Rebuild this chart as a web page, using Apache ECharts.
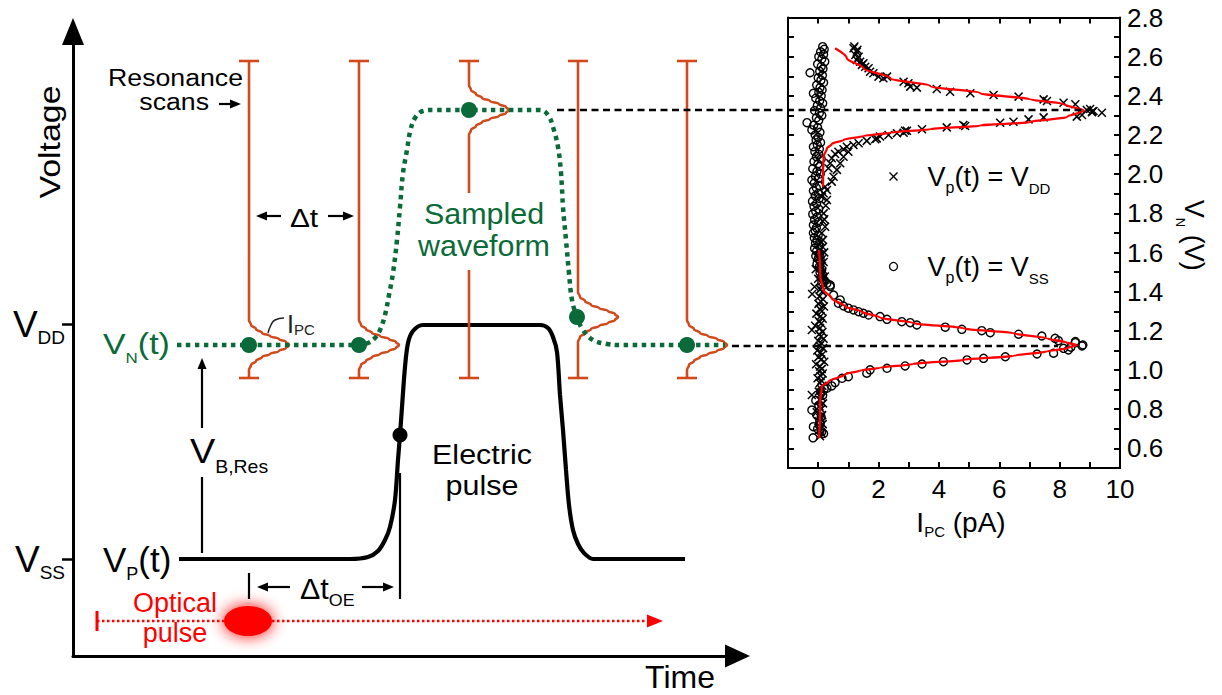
<!DOCTYPE html>
<html><head><meta charset="utf-8">
<script src="https://cdn.jsdelivr.net/npm/echarts@6/dist/echarts.min.js"></script>
<style>html,body{margin:0;padding:0;background:#fff}#c{width:1222px;height:695px}</style>
</head><body><div id="c"></div>
<script>
// ================= DATA =================
// ---- Right panel: I_PC (pA) vs V_N (V) ----
const xTickLabels = ['0','2','4','6','8','10'];
const yTickLabels = ['0.6','0.8','1.0','1.2','1.4','1.6','1.8','2.0','2.2','2.4','2.6','2.8'];
const seriesNameDD = 'V_p(t) = V_DD';
const seriesNameSS = 'V_p(t) = V_SS';

// crosses: V_p(t) = V_DD  (resonance branch)
const vddBranch = [
[1.20,2.652],[1.17,2.643],[1.30,2.635],[1.28,2.625],[1.23,2.609],[1.34,2.600],[1.28,2.583],[1.39,2.574],[1.50,2.566],
[1.45,2.558],[1.56,2.549],[1.67,2.541],[1.72,2.523],[1.83,2.515],[2.00,2.498],[2.16,2.490],[2.28,2.498],[2.83,2.472],
[2.99,2.464],[3.05,2.447],[3.27,2.442],[3.93,2.435],[4.37,2.421],[5.04,2.413],[5.81,2.404],[6.64,2.396],[7.47,2.382],
[7.58,2.374],[8.13,2.365],[8.52,2.357],[8.90,2.328],[9.01,2.333],[9.12,2.323],[9.07,2.316],[9.08,2.320],[9.40,2.314],
[8.74,2.302],[8.57,2.294],[7.47,2.290],[6.97,2.280],[6.47,2.268],[6.03,2.263],[4.81,2.251],[4.87,2.246],[4.26,2.239],
[3.44,2.229],[2.88,2.222],[2.94,2.222],[2.83,2.212],[2.61,2.209],[2.33,2.200],[2.05,2.192],[1.94,2.183],[1.89,2.178],
[1.61,2.170],[1.34,2.158],[1.17,2.149],[1.00,2.115],[0.95,2.140],[0.84,2.127],[0.84,2.089],[0.73,2.056],[0.67,2.115],
[0.62,2.022],[0.56,2.103],[0.51,1.987],[0.45,2.081],[0.45,1.962],[0.40,2.056],[0.34,2.030],[0.29,1.919],[0.12,1.885],
[0.23,1.936],[0.18,1.903],[0.29,1.868],[0.25,1.840],[0.18,1.800],[0.20,1.770],[0.15,1.760],[0.23,1.732],[0.12,1.700],[0.16,1.664]
];
// crosses: off-resonance column near I = 0
const vddBaseline = [
[0.10,1.655],[0.02,1.640],[0.15,1.628],[0.05,1.612],[0.20,1.601],[0.08,1.590],[-0.04,1.578],[0.12,1.566],[0.18,1.552],
[0.03,1.540],[0.10,1.528],[-0.08,1.515],[0.14,1.503],[0.06,1.490],[0.22,1.478],[0.00,1.466],[0.11,1.452],[0.17,1.440],
[-0.12,1.425],[0.07,1.412],[0.13,1.400],[-0.20,1.388],[0.04,1.376],[0.16,1.362],[0.09,1.350],[0.01,1.338],[0.19,1.325],
[0.05,1.312],[0.12,1.300],[-0.06,1.288],[0.08,1.275],[0.15,1.262],[0.02,1.250],[0.10,1.238],[-0.10,1.226],[0.06,1.214],
[-0.21,1.205],[0.14,1.195],[0.03,1.183],[0.09,1.171],[0.18,1.160],[0.00,1.148],[0.11,1.136],[0.05,1.124],[0.16,1.112],
[-0.03,1.100],[0.08,1.090],[0.13,1.078],[0.01,1.066],[0.10,1.054],[0.20,1.042],[-0.07,1.030],[0.06,1.018],[0.12,1.006],
[0.03,0.994],[0.15,0.982],[0.08,0.970],[-0.02,0.958],[0.11,0.946],[0.05,0.934],[0.14,0.920],[0.09,0.905],[-0.21,0.873],
[0.02,0.890],[0.12,0.860],[0.06,0.846],[0.16,0.830],[0.04,0.815],[0.10,0.800],[-0.05,0.785],[0.13,0.770],[0.07,0.755],
[0.01,0.740],[0.15,0.724],[0.08,0.708],[0.03,0.693],[0.11,0.678],[0.06,0.662]
];
// circles: V_p(t) = V_SS (resonance branch)
const vssBranch = [
[0.12,1.451],[0.29,1.443],[0.40,1.434],[0.40,1.426],[0.51,1.383],[0.73,1.358],[0.67,1.341],[0.84,1.327],[1.00,1.316],
[1.17,1.307],[1.34,1.298],[1.50,1.290],[1.67,1.281],[2.05,1.273],[2.28,1.259],[2.77,1.247],[3.05,1.242],[3.27,1.230],
[4.21,1.219],[4.76,1.208],[5.42,1.201],[5.70,1.191],[6.64,1.183],[7.41,1.174],[7.85,1.162],[7.96,1.150],[8.52,1.146],
[8.52,1.140],[8.77,1.128],[8.74,1.123],[8.37,1.117],[8.13,1.111],[8.29,1.103],[7.80,1.086],[7.25,1.082],[6.20,1.068],
[5.48,1.060],[4.93,1.052],[4.15,1.043],[3.44,1.031],[2.88,1.021],[2.28,1.009],[1.72,1.001],[1.61,0.984],[1.00,0.966],
[0.79,0.958],[0.56,0.936],[0.45,0.919],[0.29,0.907]
];
// circles: off-resonance columns near I = 0
const vssBaseline = [
[0.15,2.651],[0.20,2.638],[0.08,2.625],[0.18,2.612],[0.02,2.600],[0.12,2.588],[0.22,2.575],[-0.02,2.562],[0.10,2.550],
[0.16,2.538],[-0.27,2.518],[0.05,2.525],[0.14,2.505],[0.00,2.492],[0.09,2.480],[0.18,2.468],[-0.05,2.455],[0.06,2.442],
[0.13,2.430],[-0.16,2.413],[0.02,2.418],[0.10,2.400],[-0.08,2.388],[0.05,2.375],[0.15,2.362],[-0.03,2.350],[0.08,2.338],
[-0.12,2.325],[0.04,2.312],[0.12,2.300],[-0.06,2.288],[-0.37,2.263],[0.02,2.275],[-0.15,2.250],[-0.21,2.226],[-0.02,2.238],
[0.06,2.214],[-0.10,2.200],[0.00,2.188],[-0.07,2.175],[0.08,2.162],[-0.16,2.140],[-0.03,2.150],[0.04,2.128],[-0.11,2.115],
[0.02,2.102],[-0.06,2.090],[0.10,2.078],[-0.14,2.065],[-0.01,2.052],[0.05,2.040],[-0.18,2.028],[-0.04,2.015],[0.07,2.002],
[-0.09,1.990],[-0.21,1.970],[0.01,1.978],[-0.13,1.955],[0.04,1.942],[-0.06,1.930],[-0.16,1.915],[0.00,1.902],[-0.10,1.890],
[0.03,1.876],[-0.19,1.862],[-0.05,1.850],[-0.14,1.836],[0.02,1.822],[-0.08,1.810],[-0.18,1.796],[-0.03,1.782],[-0.12,1.768],
[0.01,1.755],[-0.16,1.740],[-0.06,1.726],[-0.16,1.700],[-0.10,1.712],[0.00,1.688],[-0.13,1.675],[-0.04,1.662],[-0.09,1.648],
[0.02,1.635],[-0.12,1.622],[-0.05,1.608],[0.05,1.595],[-0.08,1.582],[0.00,1.568],[0.08,1.555],[-0.04,1.542],[0.04,1.528],
[0.12,1.515],[0.06,1.500],[0.15,1.486],[0.10,1.472],[0.20,1.460],
[-0.21,0.796],[-0.16,0.711],[-0.17,0.654],[0.12,0.686],[0.18,0.676],[0.05,0.740],[-0.05,0.770],[0.10,0.760],[0.02,0.820],
[-0.08,0.845],[0.15,0.872],[0.08,0.890],[0.20,0.905],[-0.02,0.700],[0.06,0.725]
];
// red fitted curves
const vddFit = [[0.56,2.643],[0.95,2.592],[1.50,2.541],[2.39,2.490],[3.71,2.450],[5.37,2.413],[7.02,2.382],[8.13,2.358],
[8.80,2.325],[8.24,2.292],[7.02,2.266],[5.37,2.248],[3.71,2.230],[2.39,2.212],[1.50,2.195],[0.84,2.175],[0.45,2.154],
[0.29,2.132],[0.18,2.089],[0.16,2.030],[0.16,1.936]];
const vssFit = [[0.03,1.613],[0.07,1.477],[0.18,1.409],[0.45,1.367],[0.89,1.324],[1.45,1.298],[2.05,1.268],[3.16,1.240],
[4.81,1.213],[6.47,1.188],[7.58,1.162],[8.24,1.140],[8.57,1.128],[8.24,1.112],[7.58,1.095],[6.47,1.073],[4.81,1.052],
[3.16,1.031],[2.05,1.012],[1.40,0.998],[0.89,0.978],[0.34,0.941],[0.12,0.916],[0.07,0.847],[0.03,0.652]];

// ---- Left schematic (time t, voltage v in schematic units) ----
const levelV = [97, 332];                 // V_SS, V_DD
const levelLabels = ['{m|V}{s|SS}', '{m|V}{s|DD}'];
const pulseCurve = [[106,97],[277,97],[295,99],[305,105],[312,116],[317,129],[322,156],[325,196],[327,221],[329,249],
[332,289],[335,313],[340,325],[350,331],[467,331],[475,328],[480,319],[484,304],[487,261],[490,226],[493,186],[496,151],
[500,126],[505,112],[511,103],[520,97],[612,97]];
const pulseMarker = [[327,221]];
const sampledWave = [[104,311],[286,311],[295,313],[302,318],[307,326],[312,341],[316,361],[320,383],[324,416],[327,449],
[330,483],[334,506],[337,524],[342,538],[350,545],[360,546],[467,546],[475,541],[480,529],[485,509],[488,483],[490,449],
[493,416],[496,383],[499,356],[504,339],[510,326],[520,316],[534,312],[547,311],[652,311]];
const samplePoints = [[176,311],[286,311],[396,546],[504,339],[614,311]];
const scanTimes = [176, 286, 396, 505, 614];
const scanCenters = [311, 311, 546, 339, 311];
const scanTop = 595, scanBottom = 278, scanGap = [463, 386];
const bumpShape = [[0,25],[2,20],[7,16],[13,12],[21,9],[30,6],[37,3],[40,0],[37,-3],[30,-6],[21,-9],[13,-12],[7,-16],[2,-20],[0,-25]];
const ipcLeader = [[195,323],[198,331],[202,336],[211,338]];
const opticalPulse = [[175,35]];
const inkArrows = [[146,552,168,552],[208,440,183,440],[255,440,281,440],[129,228,129,298],[217,69,184,69],[289,69,321,69]];
const redArrows = [[24,35,590,35]];
const inkSegs = [[129,179,129,103],[176,83,176,57],[327,183,327,57]];
const redSegs = [[24,45,24,25]];
const dashSegs = [[484,546,1015,546],[659,310,985,310]];

// ================= STYLE / BUILD =================
const FONT = 'Liberation Sans, Arial, Helvetica, sans-serif';
const ORANGE = '#d24a1b', GREEN = '#0b6a3a', RED = '#ff0000';
const CROSS = 'path://M0,0L10,10M10,0L0,10';

const scanSegs = [];
scanTimes.forEach(t => { scanSegs.push([t-10,scanTop,t+10,scanTop]); scanSegs.push([t-10,scanBottom,t+10,scanBottom]); });
scanSegs.push([scanTimes[2], scanGap[1], scanTimes[2], scanBottom]);
function scanLine(i){
  const t = scanTimes[i], c = scanCenters[i];
  const pts = [[t, scanTop]];
  bumpShape.forEach(([dt,dv]) => pts.push([t+dt, c+dv]));
  pts.push([t, i === 2 ? scanGap[0] : scanBottom]);
  return pts;
}

function segSeries(name, data, st){
  return {type:'custom', name, xAxisIndex:2, yAxisIndex:2, data, z:4, silent:true,
    renderItem:(p, api) => {
      const a = api.coord([api.value(0), api.value(1)]), b = api.coord([api.value(2), api.value(3)]);
      return {type:'line', shape:{x1:a[0],y1:a[1],x2:b[0],y2:b[1]}, style:{stroke:st.color, lineWidth:st.width, lineDash:st.dash||null, fill:null}};
    }};
}
function arrowSeries(name, data, st){
  return {type:'custom', name, xAxisIndex:2, yAxisIndex:2, data, z:4, silent:true,
    renderItem:(p, api) => {
      const a = api.coord([api.value(0), api.value(1)]), b = api.coord([api.value(2), api.value(3)]);
      const dx=b[0]-a[0], dy=b[1]-a[1], L=Math.hypot(dx,dy), ux=dx/L, uy=dy/L;
      const hl=st.head[0], hw=st.head[1], bx=b[0]-ux*hl, by=b[1]-uy*hl;
      return {type:'group', children:[
        {type:'line', shape:{x1:a[0],y1:a[1],x2:bx+ux,y2:by+uy}, style:{stroke:st.color, lineWidth:st.width, lineDash:st.dash||null, fill:null}},
        {type:'polygon', shape:{points:[[b[0],b[1]],[bx-uy*hw/2,by+ux*hw/2],[bx+uy*hw/2,by-ux*hw/2]]}, style:{fill:st.color}}
      ]};
    }};
}

function txt(x, y, text, o){
  const al = o.align || 'center';
  return {type:'text', x, y, rotation:o.rot||0, scaleX:o.sx||1, silent:true, z:50,
    style:{text, x:0, y:0, font:(o.size||28)+'px '+FONT, fill:o.color||'#000',
      align:al, textAlign:al, verticalAlign:'middle', textVerticalAlign:'middle', rich:o.rich}};
}
function subTxt(x, y, parts, o){
  const c = o.color || '#000';
  const str = parts.map(([t,k]) => '{'+k+'|'+t+'}').join('');
  const rich = {m:{font:o.m+'px '+FONT, fill:c}, s:{font:o.s+'px '+FONT, fill:c, padding:[2*o.d,0,0,0]}};
  return txt(x, y, str, Object.assign({}, o, {rich, align:o.align||'left', size:o.m}));
}

const texts = [
  txt(50,142,'Voltage',{rot:Math.PI/2, sx:1.13, size:30}),
  txt(243,77.5,'Resonance',{align:'right', size:23, sx:1.16}),
  txt(209,102,'scans',{align:'right', size:23, sx:1.16}),
  txt(304,218,'Δt',{size:26, sx:1.15}),
  subTxt(103,344,[['V','m'],['N','s'],['(t)','m']],{m:30,s:15,d:14,color:GREEN,sx:1.13}),
  subTxt(287,324,[['I','m'],['PC','s']],{m:25,s:15,d:5,color:'#222'}),
  subTxt(190,450.5,[['V','m'],['B,Res','s']],{m:35,s:18,d:16,sx:1.08}),
  subTxt(103,559.5,[['V','m'],['P','s'],['(t)','m']],{m:35,s:18,d:14.5}),
  txt(482,454,'Electric',{size:28, sx:1.09}),
  txt(482,485,'pulse',{size:28, sx:1.09}),
  txt(484,214,'Sampled',{size:29, sx:1.05, color:GREEN}),
  txt(484,246,'waveform',{size:29, sx:1.05, color:GREEN}),
  subTxt(300,588.5,[['Δt','m'],['OE','s']],{m:29,s:17,d:11.5,sx:1.05}),
  txt(175,603,'Optical',{size:27, color:RED}),
  txt(175,633,'pulse',{size:27, color:RED}),
  txt(715,676.5,'Time',{size:32, align:'right'})
];

const plotAxisLine = {onZero:false, lineStyle:{color:'#000', width:2}};
const plotTick = {inside:true, length:6, lineStyle:{color:'#000', width:2}};
const legendRich = {
  g:{width:25},
  m:{fontSize:27, fontFamily:FONT, color:'#000'},
  p:{fontSize:16, fontFamily:FONT, color:'#000', padding:[22,0,0,0]},
  s:{fontSize:15, fontFamily:FONT, color:'#000', padding:[24,0,0,0]}
};

const option = {
  animation:false, backgroundColor:'#fff',
  grid:[
    {left:788, top:17.5, width:332, height:450.5, outerBoundsMode:'none'},
    {left:73, top:31.5, width:664.5, height:624.5, outerBoundsMode:'none'}
  ],
  xAxis:[
    {type:'value', gridIndex:0, position:'bottom', min:-1, max:10, interval:1, axisLine:plotAxisLine, axisTick:plotTick,
     splitLine:{show:false},
     axisLabel:{margin:8, fontSize:26, fontFamily:FONT, color:'#000', formatter:v => xTickLabels.includes(String(v)) ? String(v) : ''},
     name:'{g| }{m|I}{s|PC}{m| (pA)}', nameLocation:'middle', nameGap:38,
     nameTextStyle:{rich:{g:{width:14}, m:{fontSize:28, fontFamily:FONT, color:'#000'}, s:{fontSize:15, fontFamily:FONT, color:'#000', padding:[18,0,0,0]}}}},
    {type:'value', gridIndex:0, position:'top', min:-1, max:10, interval:1, axisLine:plotAxisLine, axisTick:plotTick,
     axisLabel:{show:false}, splitLine:{show:false}},
    {type:'value', gridIndex:1, min:0, max:664.5,
     axisLine:{show:true, onZero:false, symbol:['none','triangle'], symbolSize:[23,25], lineStyle:{color:'#000', width:3}},
     axisTick:{show:false}, axisLabel:{show:false}, splitLine:{show:false}}
  ],
  yAxis:[
    {type:'value', gridIndex:0, position:'right', min:0.5, max:2.8, interval:0.1, axisLine:plotAxisLine, axisTick:plotTick,
     splitLine:{show:false},
     axisLabel:{margin:7, fontSize:26, fontFamily:FONT, color:'#000', formatter:v => { const s = v.toFixed(1); return yTickLabels.includes(s) ? s : ''; }},
     name:'{m|V}{s|N}{m| (V)}{g| }', nameLocation:'middle', nameGap:54, nameRotate:-90,
     nameTextStyle:{rich:{g:{width:15}, m:{fontSize:27, fontFamily:FONT, color:'#000'}, s:{fontSize:13, fontFamily:FONT, color:'#000', padding:[27,0,0,0]}}}},
    {type:'value', gridIndex:0, position:'left', min:0.5, max:2.8, interval:0.1, axisLine:plotAxisLine, axisTick:plotTick,
     axisLabel:{show:false}, splitLine:{show:false}},
    {type:'value', gridIndex:1, min:0, max:624.5,
     axisLine:{show:true, onZero:false, symbol:['none','triangle'], symbolSize:[22,27], lineStyle:{color:'#000', width:3}},
     axisTick:{show:true, customValues:levelV, length:11, lineStyle:{color:'#000', width:2.5}},
     axisLabel:{show:true, customValues:levelV, margin:8, formatter:v => levelLabels[v < 200 ? 0 : 1],
       rich:{m:{fontSize:37, fontFamily:FONT, color:'#000'}, s:{fontSize:19, fontFamily:FONT, color:'#000', padding:[27,0,0,0]}}},
     splitLine:{show:false}}
  ],
  legend:[
    {left:887, top:163, padding:0, itemWidth:8, itemHeight:8, selectedMode:false,
     data:[{name:seriesNameDD, icon:CROSS, itemStyle:{color:'none', borderColor:'#000', borderWidth:1.4}}],
     formatter:() => '{g| }{m|V}{p|p}{m|(t) = V}{s|DD}', textStyle:{rich:legendRich}},
    {left:887, top:253, padding:0, itemWidth:8, itemHeight:8, selectedMode:false,
     data:[{name:seriesNameSS, icon:'circle', itemStyle:{color:'none', borderColor:'#000', borderWidth:1.3}}],
     formatter:() => '{g| }{m|V}{p|p}{m|(t) = V}{s|SS}', textStyle:{rich:legendRich}}
  ],
  graphic:{elements:texts},
  series:[
    {type:'scatter', name:seriesNameDD, xAxisIndex:0, yAxisIndex:0, data:vddBranch.concat(vddBaseline), symbol:CROSS, symbolSize:8,
     itemStyle:{color:'none', borderColor:'#000', borderWidth:1.5, opacity:1}, z:2, silent:true},
    {type:'scatter', name:seriesNameSS, xAxisIndex:0, yAxisIndex:0, data:vssBranch.concat(vssBaseline), symbol:'circle', symbolSize:8,
     itemStyle:{color:'none', borderColor:'#000', borderWidth:1.4, opacity:1}, z:2, silent:true},
    {type:'line', name:'fit V_DD', xAxisIndex:0, yAxisIndex:0, data:vddFit, smooth:0.3, smoothMonotone:'y', showSymbol:false,
     lineStyle:{color:RED, width:2.3}, z:3, silent:true},
    {type:'line', name:'fit V_SS', xAxisIndex:0, yAxisIndex:0, data:vssFit, smooth:0.3, smoothMonotone:'y', showSymbol:false,
     lineStyle:{color:RED, width:2.3}, z:3, silent:true},
    ...scanTimes.map((t,i) => ({type:'line', name:'scan '+(i+1), xAxisIndex:2, yAxisIndex:2, data:scanLine(i), smooth:0.5, smoothMonotone:'y',
      showSymbol:false, lineStyle:{color:ORANGE, width:2.6}, z:2, silent:true})),
    segSeries('scan ends', scanSegs, {color:ORANGE, width:2.6}),
    segSeries('ink segments', inkSegs, {color:'#000', width:2.2}),
    segSeries('red segments', redSegs, {color:RED, width:3}),
    segSeries('dashed guides', dashSegs, {color:'#000', width:2.5, dash:[7,4.5]}),
    arrowSeries('ink arrows', inkArrows, {color:'#000', width:2.2, head:[11,9]}),
    arrowSeries('optical arrow', redArrows, {color:RED, width:2.5, dash:[2.5,2.5], head:[16,13]}),
    {type:'scatter', name:'optical pulse', xAxisIndex:2, yAxisIndex:2, data:opticalPulse, symbol:'circle', symbolSize:[48,30],
     itemStyle:{color:RED, opacity:1, shadowBlur:16, shadowColor:RED}, z:3, silent:true},
    {type:'line', name:'electric pulse', xAxisIndex:2, yAxisIndex:2, data:pulseCurve, smooth:0.3, showSymbol:false,
     lineStyle:{color:'#000', width:4.2}, z:3, silent:true},
    {type:'line', name:'sampled waveform', xAxisIndex:2, yAxisIndex:2, data:sampledWave, smooth:0.4, showSymbol:false,
     lineStyle:{color:GREEN, width:4.5, type:[4.5,4.5], cap:'butt'}, z:5, silent:true},
    {type:'line', name:'I_PC leader', xAxisIndex:2, yAxisIndex:2, data:ipcLeader, smooth:0.5, showSymbol:false,
     lineStyle:{color:'#222', width:1.5}, z:5, silent:true},
    {type:'scatter', name:'samples', xAxisIndex:2, yAxisIndex:2, data:samplePoints, symbol:'circle', symbolSize:16,
     itemStyle:{color:GREEN, opacity:1}, z:6, silent:true},
    {type:'scatter', name:'trigger', xAxisIndex:2, yAxisIndex:2, data:pulseMarker, symbol:'circle', symbolSize:15,
     itemStyle:{color:'#000', opacity:1}, z:6, silent:true}
  ]
};
const chart = echarts.init(document.getElementById('c'), null, {renderer:'svg'});
chart.setOption(option);
</script></body></html>
